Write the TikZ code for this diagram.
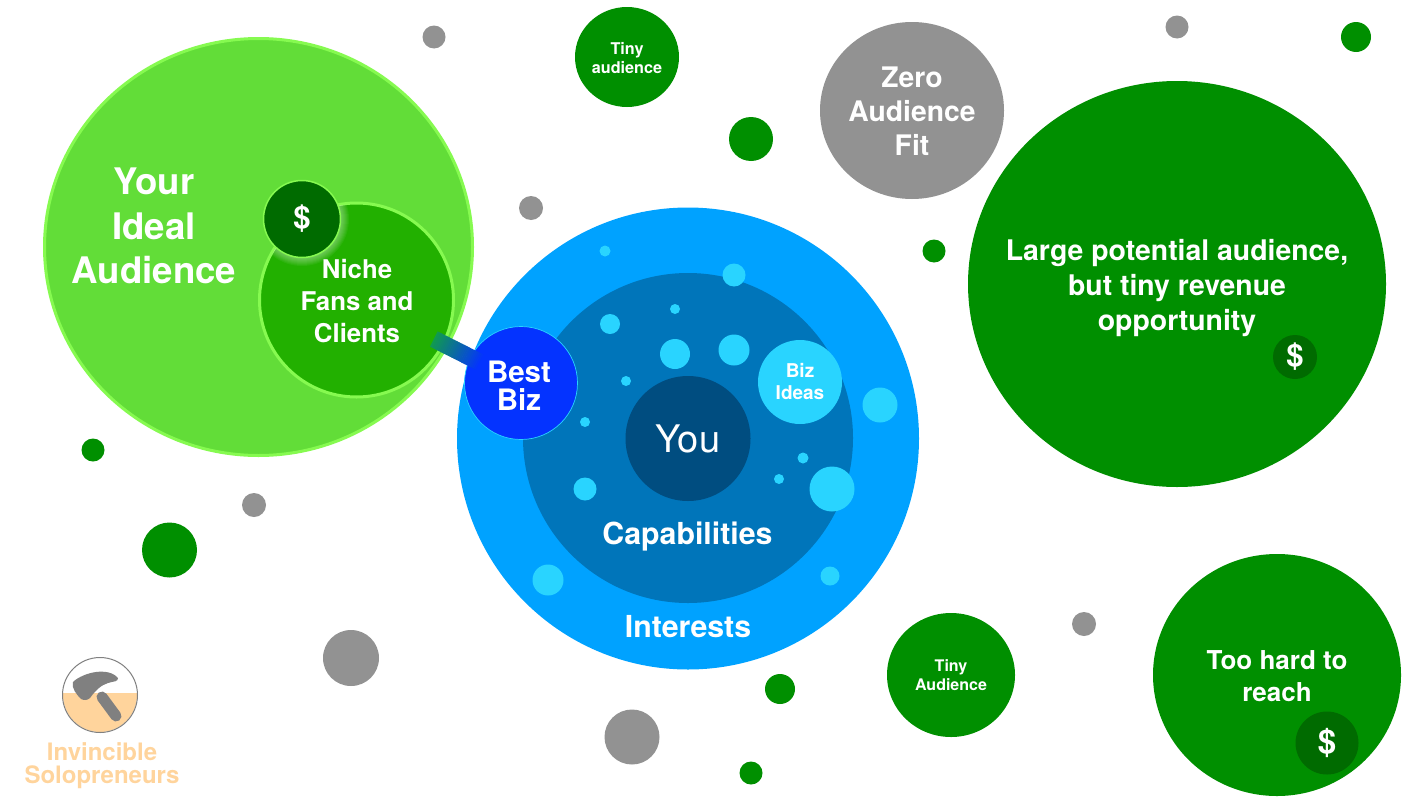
\documentclass[tikz,border=0pt]{standalone}
\usepackage{fontspec}
\setmainfont{TeX Gyre Heros}[BoldFont=* Bold]
\usetikzlibrary{calc,shapes.geometric}
\definecolor{lightg}{HTML}{62DD38}
\definecolor{edgeg}{HTML}{86FA50}
\definecolor{nicheg}{HTML}{22B000}
\definecolor{darkg}{HTML}{008F00}
\definecolor{dollarg}{HTML}{006B00}
\definecolor{graybub}{HTML}{929292}
\definecolor{blueout}{HTML}{00A2FF}
\definecolor{bluein}{HTML}{0075BA}
\definecolor{bluecore}{HTML}{004D80}
\definecolor{bestb}{HTML}{0433FF}
\definecolor{cyanb}{HTML}{29D4FF}
\definecolor{peach}{HTML}{FFD49C}
\definecolor{logogray}{HTML}{808080}
\definecolor{connstart}{HTML}{109A50}
\tikzset{
  x=1pt,y=-1pt,
  bub/.style={circle,inner sep=0pt,outer sep=0pt,minimum size=#1*2pt},
  green bub/.style={bub=#1,fill=darkg},
  gray bub/.style={bub=#1,fill=graybub},
  cyan bub/.style={bub=#1,fill=cyanb},
  oval/.style 2 args={ellipse,inner sep=0pt,outer sep=0pt,minimum width=#1*2pt,minimum height=#2*2pt},
  lab/.style={text=white,font=\bfseries,align=center,inner sep=0pt},
}
\newcommand{\fs}[2]{\fontsize{#1}{#2}\selectfont}
\begin{document}
\begin{tikzpicture}
\useasboundingbox (0,0) rectangle (1412,811);
\fill[white] (0,0) rectangle (1412,811);
% left green group
\node[oval={214}{208.5},fill=lightg,draw=edgeg,line width=3pt] (ideal) at (258.5,247) {};
\node[bub=97,fill=nicheg,draw=edgeg,line width=3pt] (niche) at (356.5,300) {};
\begin{scope}
\clip (356.5,300) circle (96);
\foreach \r in {40,41,...,47}{\fill[white,opacity=.05] (302,219) circle (\r);}
\end{scope}
\node[bub=38.5,fill=dollarg,draw=edgeg,line width=1.5pt,text=white,font=\bfseries\fs{31}{31}] (dollarA) at (302,219) {\$};
\node[lab,font=\bfseries\fs{36.6}{44.5}] (idealT) at (154,226) {Your\\Ideal\\Audience};
\node[lab,font=\bfseries\fs{25.8}{32}] (nicheT) at (357,301) {Niche\\Fans and\\Clients};
% blue group
\node[bub=231,fill=blueout] (interests) at (688,438.5) {};
\node[bub=165,fill=bluein] (capab) at (688,438) {};
\node[bub=62.5,fill=bluecore,text=white,font=\fs{38}{38}] (you) at (688,438.5) {You};
\node[lab,font=\bfseries\fs{30.3}{30}] (capT) at (687.5,537) {Capabilities};
\node[lab,font=\bfseries\fs{30.3}{30}] (intT) at (688,627) {Interests};
\foreach \n/\x/\y/\r in {a/605/251/5.5,b/734/275/11.5,c/675/309/5,d/610/324/10,e/675/354/15,f/734/350/15.5,g/626/381/5,h/585/422/5,i/880/405/17.5,j/803/458/5.5,k/779/479/5,l/832/489/22.5,m/585/489/11.5,n/548/580/15.5,o/830/576/9.5}{
  \node[cyan bub=\r] (idea\n) at (\x,\y) {};
}
\node[bub=42,fill=cyanb,text=white,font=\bfseries\fs{19}{22},align=center] (ideas) at (800,382) {Biz\\Ideas};
\node[bub=56.5,fill=bestb,draw=cyanb,line width=.7pt] (best) at (521,383) {};
% connector
\foreach \i in {0,1,...,28}{
  \pgfmathsetmacro{\ta}{0.47+\i*0.01}
  \pgfmathsetmacro{\tb}{0.47+(\i+1.3)*0.01}
  \pgfmathtruncatemacro{\p}{100-\i*100/28}
  \draw[line width=17pt,color=connstart!\p!bestb] ($(niche.center)!\ta!(best.center)$) -- ($(niche.center)!\tb!(best.center)$);
}
\node[lab,font=\bfseries\fs{29.5}{28}] (bestT) at (519,385.5) {Best\\Biz};
% green bubbles
\node[oval={52}{50},fill=darkg] (tinyA) at (627,57) {};
\node[lab,font=\bfseries\fs{16.2}{19}] (tinyAT) at (627,58) {Tiny\\audience};
\node[green bub=22] (g1) at (751,139) {};
\node[green bub=11.5] (g2) at (934,251) {};
\node[green bub=15] (g3) at (1356,37) {};
\node[oval={64}{62},fill=darkg] (tinyB) at (951,675) {};
\node[lab,font=\bfseries\fs{16}{19}] (tinyBT) at (951,675.5) {Tiny\\Audience};
\node[green bub=15] (g4) at (780,689) {};
\node[green bub=11.5] (g5) at (751,773) {};
\node[green bub=27.5] (g6) at (169.5,550) {};
\node[green bub=11.5] (g7) at (93,450) {};
\node[oval={209}{203},fill=darkg] (large) at (1177,284) {};
\node[lab,font=\bfseries\fs{28.4}{35}] (largeT) at (1177,288) {Large potential audience,\\but tiny revenue\\opportunity};
\node[bub=22,fill=dollarg,text=white,font=\bfseries\fs{31}{31}] (dollarB) at (1295,357) {\$};
\node[oval={124}{121},fill=darkg] (hard) at (1277,675) {};
\node[lab,font=\bfseries\fs{26}{32}] (hardT) at (1277,676.5) {Too hard to\\reach};
\node[bub=31.5,fill=dollarg,text=white,font=\bfseries\fs{33}{33}] (dollarC) at (1327,743) {\$};
% gray bubbles
\node[oval={92}{88.5},fill=graybub] (zero) at (912,110.5) {};
\node[lab,font=\bfseries\fs{28.3}{34}] (zeroT) at (912,111.5) {Zero\\Audience\\Fit};
\node[gray bub=11.5] (s1) at (434,37) {};
\node[gray bub=12] (s2) at (531,208) {};
\node[gray bub=11.5] (s3) at (1177,27) {};
\node[gray bub=12] (s4) at (1084,624) {};
\node[gray bub=12] (s5) at (254,505) {};
\node[gray bub=28] (s6) at (351,658) {};
\node[gray bub=27.5] (s7) at (632,737) {};
% logo
\begin{scope}
\clip (100,695) circle (37);
\fill[peach] (60,693) rectangle (140,735);
\end{scope}
\node[bub=37.5,draw=logogray,line width=1pt] (logo) at (100,695) {};
\draw[logogray,line width=11pt,line cap=round] (102,697) -- (116,716);
\fill[logogray] (73,682) .. controls (78,677) and (88,673) .. (96,672)
  .. controls (104,671) and (113,672) .. (118,678)
  .. controls (118,682) and (114,681) .. (108,683)
  .. controls (101,685) and (95,691) .. (90,698)
  .. controls (87,701) and (83,700) .. (81,699)
  .. controls (77,695) and (71,688) .. (73,682) -- cycle;
\node[lab,text=peach,font=\bfseries\fs{24}{23}] (logoT) at (102,765.5) {Invincible\\Solopreneurs};
\end{tikzpicture}
\end{document}
